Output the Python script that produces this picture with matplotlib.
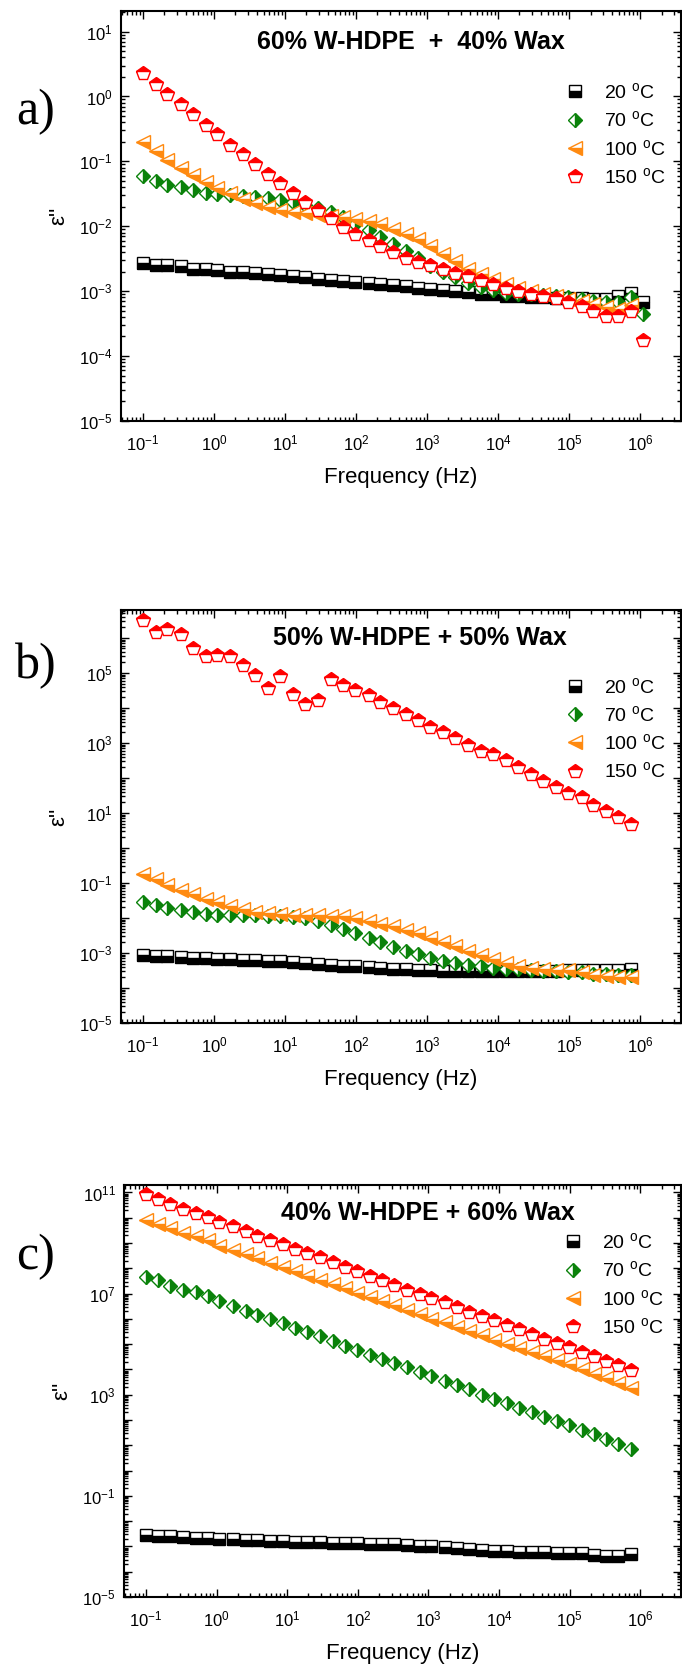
import numpy as np
import matplotlib
matplotlib.use("Agg")
import matplotlib.pyplot as plt
from matplotlib.ticker import LogLocator, FuncFormatter, NullFormatter

plt.rcParams['font.family'] = ['Liberation Sans', 'DejaVu Sans']
plt.rcParams['mathtext.default'] = 'regular'

# measurement frequencies (Hz)
freq = [1.0e-1, 1.5e-1, 2.2e-1, 3.4e-1, 5.1e-1, 7.6e-1, 1.1, 1.7, 2.6, 3.8,
        5.8, 8.6, 13, 19, 29, 44, 66, 98, 150, 220,
        330, 500, 750, 1.1e3, 1.7e3, 2.5e3, 3.8e3, 5.7e3, 8.5e3, 1.3e4,
        1.9e4, 2.9e4, 4.3e4, 6.5e4, 9.7e4, 1.5e5, 2.2e5, 3.3e5, 4.9e5, 7.4e5,
        1.1e6]

temps = ["20", "70", "100", "150"]

# a) 60% W-HDPE + 40% Wax
a_20 = [2.75e-3, 2.52e-3, 2.52e-3, 2.45e-3, 2.2e-3, 2.2e-3, 2.1e-3, 2.0e-3, 2.0e-3, 1.9e-3,
        1.85e-3, 1.78e-3, 1.73e-3, 1.64e-3, 1.56e-3, 1.48e-3, 1.41e-3, 1.37e-3, 1.33e-3, 1.27e-3,
        1.23e-3, 1.18e-3, 1.12e-3, 1.07e-3, 1.04e-3, 9.9e-4, 9.6e-4, 9.1e-4, 8.9e-4, 8.5e-4,
        8.3e-4, 8.0e-4, 8.0e-4, 7.8e-4, 7.8e-4, 7.8e-4, 7.6e-4, 7.6e-4, 8.3e-4, 9.4e-4,
        6.8e-4]
a_70 = [6.0e-2, 5.0e-2, 4.4e-2, 4.0e-2, 3.6e-2, 3.3e-2, 3.1e-2, 3.0e-2, 2.96e-2, 2.8e-2,
        2.7e-2, 2.5e-2, 2.34e-2, 2.13e-2, 1.9e-2, 1.65e-2, 1.38e-2, 1.1e-2, 8.7e-3, 6.9e-3,
        5.4e-3, 4.1e-3, 3.2e-3, 2.4e-3, 1.95e-3, 1.63e-3, 1.35e-3, 1.17e-3, 1.04e-3, 9.5e-4,
        9.1e-4, 8.9e-4, 8.7e-4, 8.5e-4, 8.0e-4, 7.6e-4, 7.1e-4, 6.8e-4, 6.7e-4, 8.0e-4,
        4.4e-4]
a_100 = [1.98e-1, 1.44e-1, 1.06e-1, 8.0e-2, 6.2e-2, 4.8e-2, 3.9e-2, 3.2e-2, 2.6e-2, 2.3e-2,
         2.0e-2, 1.8e-2, 1.65e-2, 1.58e-2, 1.5e-2, 1.44e-2, 1.38e-2, 1.31e-2, 1.21e-2, 1.08e-2,
         9.2e-3, 7.6e-3, 6.3e-3, 5.0e-3, 3.7e-3, 2.9e-3, 2.2e-3, 1.86e-3, 1.53e-3, 1.3e-3,
         1.12e-3, 1.0e-3, 9.0e-4, 8.3e-4, 7.6e-4, 7.1e-4, 6.4e-4, 5.7e-4, 5.3e-4, 6.2e-4]
a_150 = [2.27, 1.58, 1.09, 0.77, 0.54, 0.37, 0.26, 0.18, 0.128, 0.090,
         6.5e-2, 4.7e-2, 3.3e-2, 2.4e-2, 1.8e-2, 1.34e-2, 9.8e-3, 7.6e-3, 6.1e-3, 5.0e-3,
         4.0e-3, 3.3e-3, 2.8e-3, 2.5e-3, 2.2e-3, 1.9e-3, 1.7e-3, 1.5e-3, 1.3e-3, 1.12e-3,
         1.02e-3, 9.1e-4, 8.3e-4, 7.8e-4, 6.9e-4, 5.9e-4, 4.9e-4, 4.2e-4, 4.1e-4, 4.9e-4,
         1.74e-4]

# b) 50% W-HDPE + 50% Wax
b_20 = [8.7e-4, 8.3e-4, 8.0e-4, 7.8e-4, 7.4e-4, 7.2e-4, 6.7e-4, 6.6e-4, 6.5e-4, 6.4e-4,
        6.1e-4, 5.8e-4, 5.4e-4, 5.1e-4, 4.8e-4, 4.6e-4, 4.4e-4, 4.2e-4, 4.0e-4, 3.8e-4,
        3.6e-4, 3.5e-4, 3.3e-4, 3.2e-4, 3.0e-4, 3.0e-4, 3.0e-4, 3.0e-4, 3.0e-4, 3.0e-4,
        3.0e-4, 3.0e-4, 3.0e-4, 3.0e-4, 3.2e-4, 3.2e-4, 3.2e-4, 3.2e-4, 3.2e-4, 3.4e-4]
b_70 = [2.95e-2, 2.36e-2, 1.9e-2, 1.66e-2, 1.45e-2, 1.32e-2, 1.26e-2, 1.26e-2, 1.2e-2, 1.2e-2,
        1.18e-2, 1.18e-2, 1.1e-2, 9.8e-3, 8.2e-3, 6.3e-3, 4.8e-3, 3.7e-3, 2.75e-3, 2.1e-3,
        1.48e-3, 1.13e-3, 9.1e-4, 7.3e-4, 6.1e-4, 5.1e-4, 4.7e-4, 4.3e-4, 3.8e-4, 3.6e-4,
        3.4e-4, 3.3e-4, 3.1e-4, 3.1e-4, 2.9e-4, 2.8e-4, 2.6e-4, 2.5e-4, 2.4e-4, 2.4e-4]
b_100 = [1.78e-1, 1.26e-1, 8.8e-2, 6.4e-2, 4.8e-2, 3.6e-2, 2.8e-2, 2.15e-2, 1.78e-2, 1.52e-2,
         1.38e-2, 1.31e-2, 1.26e-2, 1.26e-2, 1.2e-2, 1.18e-2, 1.12e-2, 9.8e-3, 8.2e-3, 6.9e-3,
         5.8e-3, 4.6e-3, 3.7e-3, 2.75e-3, 2.1e-3, 1.62e-3, 1.18e-3, 8.7e-4, 6.6e-4, 5.1e-4,
         4.3e-4, 3.8e-4, 3.5e-4, 3.3e-4, 3.2e-4, 2.9e-4, 2.4e-4, 2.2e-4, 2.0e-4, 2.1e-4]
b_150 = [3.2e6, 1.5e6, 1.8e6, 1.3e6, 5.0e5, 3.0e5, 3.3e5, 3.1e5, 1.66e5, 8.6e4,
         3.7e4, 8.0e4, 2.45e4, 1.27e4, 1.65e4, 6.9e4, 4.6e4, 3.3e4, 2.3e4, 1.48e4,
         1.02e4, 6.8e3, 4.4e3, 2.95e3, 2.0e3, 1.37e3, 8.5e2, 5.9e2, 4.7e2, 3.2e2,
         2.0e2, 1.3e2, 84, 54, 37, 28, 17, 11.7, 7.8, 5.0]

# c) 40% W-HDPE + 60% Wax
c_20 = [2.9e-3, 2.6e-3, 2.6e-3, 2.3e-3, 2.15e-3, 2.1e-3, 1.95e-3, 1.9e-3, 1.85e-3, 1.75e-3,
        1.7e-3, 1.65e-3, 1.5e-3, 1.48e-3, 1.45e-3, 1.4e-3, 1.38e-3, 1.38e-3, 1.3e-3, 1.26e-3,
        1.22e-3, 1.18e-3, 1.08e-3, 1.0e-3, 9.1e-4, 8.6e-4, 7.8e-4, 7.3e-4, 6.8e-4, 6.4e-4,
        6.2e-4, 5.9e-4, 5.9e-4, 5.7e-4, 5.5e-4, 5.4e-4, 4.6e-4, 4.1e-4, 4.1e-4, 5.0e-4]
c_70 = [4.6e7, 3.4e7, 1.95e7, 1.45e7, 1.12e7, 7.8e6, 5.0e6, 3.2e6, 2.1e6, 1.48e6,
        1.0e6, 6.9e5, 4.4e5, 2.95e5, 2.1e5, 1.32e5, 8.3e4, 5.8e4, 3.9e4, 2.6e4,
        1.82e4, 1.23e4, 8.1e3, 5.5e3, 3.5e3, 2.35e3, 1.62e3, 1.02e3, 6.9e2, 4.8e2,
        3.1e2, 2.1e2, 1.35e2, 91, 62, 41, 27, 17.4, 11.0, 6.9]
c_100 = [8.3e9, 5.8e9, 3.9e9, 2.6e9, 1.82e9, 1.29e9, 7.8e8, 5.5e8, 3.7e8, 2.6e8,
         1.62e8, 1.12e8, 7.6e7, 5.1e7, 3.5e7, 2.4e7, 1.62e7, 1.07e7, 7.4e6, 5.0e6,
         3.4e6, 2.3e6, 1.58e6, 1.02e6, 7.4e5, 4.8e5, 3.2e5, 2.3e5, 1.51e5, 1.02e5,
         7.2e4, 5.0e4, 3.4e4, 2.3e4, 1.58e4, 1.07e4, 6.9e3, 4.7e3, 2.95e3, 1.9e3]
c_150 = [8.9e10, 5.5e10, 3.5e10, 2.2e10, 1.5e10, 1.06e10, 6.9e9, 4.6e9, 3.1e9, 1.95e9,
         1.35e9, 9.3e8, 5.8e8, 4.1e8, 2.7e8, 1.74e8, 1.12e8, 7.6e7, 5.1e7, 3.4e7,
         2.2e7, 1.45e7, 1.0e7, 6.6e6, 4.6e6, 2.9e6, 1.95e6, 1.29e6, 8.9e5, 6.0e5,
         4.1e5, 2.6e5, 1.66e5, 1.12e5, 7.6e4, 4.8e4, 3.4e4, 2.1e4, 1.45e4, 9.3e3]

titles = ["60% W-HDPE  +  40% Wax", "50% W-HDPE + 50% Wax", "40% W-HDPE + 60% Wax"]
panel_tags = ["a)", "b)", "c)"]
xlims = (10 ** -1.31, 10 ** 6.57)
ytop = [10 ** 1.32, 10 ** 6.8, 10 ** 11.3]
ylabel_every = [1, 2, 4]

# marker style per temperature: marker, colour, half filled, size
styles = [("s", "black", "bottom", 8.0),
          ("D", "#0a820a", "right", 7.3),
          ("<", "#ff8a10", "bottom", 10.0),
          ("p", "#ff0000", "top", 10.5)]

panels = [[a_20, a_70, a_100, a_150],
          [b_20, b_70, b_100, b_150],
          [c_20, c_70, c_100, c_150]]

# axes rectangles in figure fraction
rects = [[0.1774, 0.7475, 0.8206, 0.2460],
         [0.1774, 0.3863, 0.8206, 0.2478],
         [0.1818, 0.0420, 0.8162, 0.2472]]
title_pos = [(0.518, 0.924), (0.534, 0.932), (0.546, 0.932)]
legend_pos = [(0.793, 0.826), (0.793, 0.838), (0.789, 0.885)]
tag_y = [0.933, 0.6005, 0.246]
xlab_y = [-0.113, -0.111, -0.112]


def xfmt(v, pos):
    if v < xlims[0] or v > xlims[1]:
        return ""
    return r"$10^{%d}$" % int(round(np.log10(v)))


def yfmt(every, top):
    def f(v, pos):
        if v < 0.99e-5 or v > top:
            return ""
        e = int(round(np.log10(v)))
        if (e + 5) % every == 0:
            return r"$10^{%d}$" % e
        return ""
    return FuncFormatter(f)


fig = plt.figure(figsize=(6.82, 16.67), dpi=100)

for i, series in enumerate(panels):
    ax = fig.add_axes(rects[i])
    for t, ys, (mk, col, fs, ms) in zip(temps, series, styles):
        ax.plot(freq[:len(ys)], ys, linestyle="none", marker=mk, color=col,
                markersize=ms, fillstyle=fs, markerfacecoloralt="white",
                markeredgecolor=col, markeredgewidth=1.0,
                label=t + r" $^{o}$C")
    ax.set_xscale("log")
    ax.set_yscale("log")
    ax.set_xlim(*xlims)
    ax.set_ylim(1e-5, ytop[i])

    ax.xaxis.set_major_locator(LogLocator(base=10, numticks=30))
    ax.xaxis.set_minor_locator(LogLocator(base=10, subs=np.arange(2, 10), numticks=30))
    ax.xaxis.set_minor_formatter(NullFormatter())
    ax.xaxis.set_major_formatter(FuncFormatter(xfmt))
    ax.yaxis.set_major_locator(LogLocator(base=10, numticks=30))
    ax.yaxis.set_minor_locator(LogLocator(base=10, subs=np.arange(2, 10), numticks=30))
    ax.yaxis.set_minor_formatter(NullFormatter())
    ax.yaxis.set_major_formatter(yfmt(ylabel_every[i], ytop[i]))

    ax.tick_params(which="both", direction="in", top=True, right=True, width=1.0,
                   labelsize=12)
    ax.tick_params(which="major", length=6)
    ax.tick_params(axis="x", which="major", pad=9)
    ax.tick_params(axis="y", which="major", pad=6)
    ax.tick_params(which="minor", length=3)
    for s in ax.spines.values():
        s.set_linewidth(1.5)

    ax.set_xlabel("Frequency (Hz)", fontsize=16)
    ax.xaxis.set_label_coords(0.5, xlab_y[i])
    ax.set_ylabel("ε''", fontsize=16)
    ax.yaxis.set_label_coords(-0.093, 0.5)

    ax.text(title_pos[i][0], title_pos[i][1], titles[i], transform=ax.transAxes,
            ha="center", va="center", fontsize=18, fontweight="bold")
    ax.legend(loc="upper left", bbox_to_anchor=legend_pos[i], frameon=False,
              fontsize=14, handletextpad=1.0, labelspacing=0.42,
              borderaxespad=0, borderpad=0, handlelength=1.0)

    fig.text(0.052, tag_y[i], panel_tags[i], family="Liberation Serif",
             fontsize=36, ha="center", va="center")

fig.savefig("out.png", dpi=100)
